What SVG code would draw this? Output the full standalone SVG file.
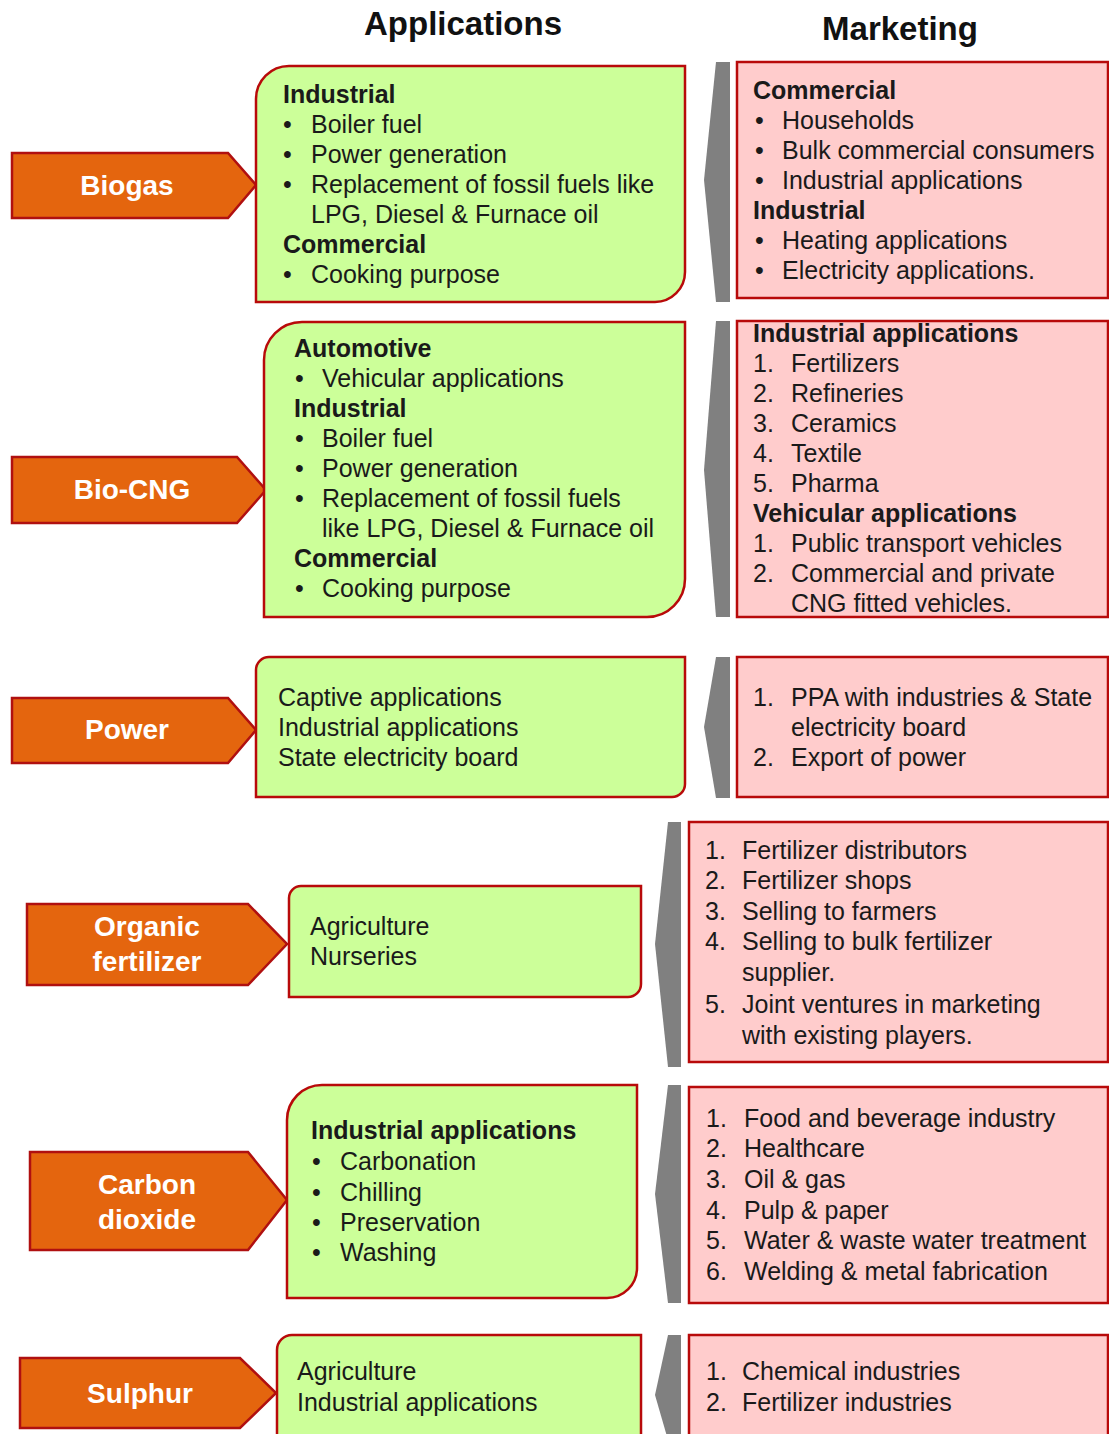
<svg xmlns="http://www.w3.org/2000/svg" width="1109" height="1434" viewBox="0 0 1109 1434">
<style>
.arrow{fill:#E4650E;stroke:#B01010;stroke-width:2.5}
.app{fill:#CCFF99;stroke:#B80A0A;stroke-width:2.5}
.mkt{fill:#FFCCCC;stroke:#B80A0A;stroke-width:2.5}
.sep{fill:#808080}
text{font-family:"Liberation Sans",Arial,sans-serif;fill:#1a1a1a}
.t{font-size:25px}
.b{font-size:25px;font-weight:bold}
.lbl{font-size:28px;font-weight:bold;fill:#ffffff;text-anchor:middle}
.hd{font-size:33px;font-weight:bold;fill:#111;text-anchor:middle}
</style>
<rect width="1109" height="1434" fill="#ffffff"/>
<g id="headings">
<text class="hd" x="463" y="35">Applications</text>
<text class="hd" x="900" y="40">Marketing</text>
</g>
<g id="connectors">
<polygon class="sep" points="716,62 730,62 730,302 716,302 704,180"/>
<polygon class="sep" points="716,321 730,321 730,617 716,617 704,470"/>
<polygon class="sep" points="716,657 730,657 730,798 716,798 704,727"/>
<polygon class="sep" points="668,822 681,822 681,1067 668,1067 655,944"/>
<polygon class="sep" points="668,1085 681,1085 681,1303 668,1303 655,1194"/>
<polygon class="sep" points="668,1335 681,1335 681,1440 668,1440 655,1395"/>
</g>
<g id="biogas">
<polygon class="arrow" points="12,153 228,153 256,185 228,218 12,218"/>
<text class="lbl" x="127" y="195">Biogas</text>
</g>
<g id="biogas-app">
<path class="app" d="M289,66 H685 V272 A30,30 0 0 1 655,302 H256 V99 A33,33 0 0 1 289,66 Z"/>
<text class="b" x="283" y="103">Industrial</text>
<text class="t" x="283" y="133">•</text><text class="t" x="311" y="133">Boiler fuel</text>
<text class="t" x="283" y="163">•</text><text class="t" x="311" y="163">Power generation</text>
<text class="t" x="283" y="193">•</text><text class="t" x="311" y="193">Replacement of fossil fuels like</text>
<text class="t" x="311" y="223">LPG, Diesel &amp; Furnace oil</text>
<text class="b" x="283" y="253">Commercial</text>
<text class="t" x="283" y="283">•</text><text class="t" x="311" y="283">Cooking purpose</text>
</g>
<g id="biogas-mkt">
<rect class="mkt" x="737" y="62" width="371" height="236"/>
<text class="b" x="753" y="99">Commercial</text>
<text class="t" x="755" y="129">•</text><text class="t" x="782" y="129">Households</text>
<text class="t" x="755" y="159">•</text><text class="t" x="782" y="159">Bulk commercial consumers</text>
<text class="t" x="755" y="189">•</text><text class="t" x="782" y="189">Industrial applications</text>
<text class="b" x="753" y="219">Industrial</text>
<text class="t" x="755" y="249">•</text><text class="t" x="782" y="249">Heating applications</text>
<text class="t" x="755" y="279">•</text><text class="t" x="782" y="279">Electricity applications.</text>
</g>
<g id="biocng">
<polygon class="arrow" points="12,457 237,457 266,490 237,523 12,523"/>
<text class="lbl" x="132" y="499">Bio-CNG</text>
</g>
<g id="biocng-app">
<path class="app" d="M302,322 H685 V579 A38,38 0 0 1 647,617 H264 V360 A38,38 0 0 1 302,322 Z"/>
<text class="b" x="294" y="357">Automotive</text>
<text class="t" x="295" y="387">•</text><text class="t" x="322" y="387">Vehicular applications</text>
<text class="b" x="294" y="417">Industrial</text>
<text class="t" x="295" y="447">•</text><text class="t" x="322" y="447">Boiler fuel</text>
<text class="t" x="295" y="477">•</text><text class="t" x="322" y="477">Power generation</text>
<text class="t" x="295" y="507">•</text><text class="t" x="322" y="507">Replacement of fossil fuels</text>
<text class="t" x="322" y="537">like LPG, Diesel &amp; Furnace oil</text>
<text class="b" x="294" y="567">Commercial</text>
<text class="t" x="295" y="597">•</text><text class="t" x="322" y="597">Cooking purpose</text>
</g>
<g id="biocng-mkt">
<rect class="mkt" x="737" y="321" width="371" height="296"/>
<text class="b" x="753" y="342">Industrial applications</text>
<text class="t" x="753" y="372">1.</text><text class="t" x="791" y="372">Fertilizers</text>
<text class="t" x="753" y="402">2.</text><text class="t" x="791" y="402">Refineries</text>
<text class="t" x="753" y="432">3.</text><text class="t" x="791" y="432">Ceramics</text>
<text class="t" x="753" y="462">4.</text><text class="t" x="791" y="462">Textile</text>
<text class="t" x="753" y="492">5.</text><text class="t" x="791" y="492">Pharma</text>
<text class="b" x="753" y="522">Vehicular applications</text>
<text class="t" x="753" y="552">1.</text><text class="t" x="791" y="552">Public transport vehicles</text>
<text class="t" x="753" y="582">2.</text><text class="t" x="791" y="582">Commercial and private</text>
<text class="t" x="791" y="612">CNG fitted vehicles.</text>
</g>
<g id="power">
<polygon class="arrow" points="12,698 228,698 256,730 228,763 12,763"/>
<text class="lbl" x="127" y="739">Power</text>
</g>
<g id="power-app">
<path class="app" d="M269,657 H685 V784 A13,13 0 0 1 672,797 H256 V670 A13,13 0 0 1 269,657 Z"/>
<text class="t" x="278" y="706">Captive applications</text>
<text class="t" x="278" y="736">Industrial applications</text>
<text class="t" x="278" y="766">State electricity board</text>
</g>
<g id="power-mkt">
<rect class="mkt" x="737" y="657" width="371" height="140"/>
<text class="t" x="753" y="706">1.</text><text class="t" x="791" y="706">PPA with industries &amp; State</text>
<text class="t" x="791" y="736">electricity board</text>
<text class="t" x="753" y="766">2.</text><text class="t" x="791" y="766">Export of power</text>
</g>
<g id="organic-fertilizer">
<polygon class="arrow" points="27,904 248,904 287,944 248,985 27,985"/>
<text class="lbl" x="147" y="936">Organic</text>
<text class="lbl" x="147" y="971">fertilizer</text>
</g>
<g id="organic-fertilizer-app">
<path class="app" d="M301,886 H641 V984 A13,13 0 0 1 628,997 H289 V898 A12,12 0 0 1 301,886 Z"/>
<text class="t" x="310" y="935">Agriculture</text>
<text class="t" x="310" y="965">Nurseries</text>
</g>
<g id="organic-fertilizer-mkt">
<rect class="mkt" x="689" y="822" width="419" height="240"/>
<text class="t" x="705" y="859">1.</text><text class="t" x="742" y="859">Fertilizer distributors</text>
<text class="t" x="705" y="889">2.</text><text class="t" x="742" y="889">Fertilizer shops</text>
<text class="t" x="705" y="920">3.</text><text class="t" x="742" y="920">Selling to farmers</text>
<text class="t" x="705" y="950">4.</text><text class="t" x="742" y="950">Selling to bulk fertilizer</text>
<text class="t" x="742" y="981">supplier.</text>
<text class="t" x="705" y="1013">5.</text><text class="t" x="742" y="1013">Joint ventures in marketing</text>
<text class="t" x="742" y="1044">with existing players.</text>
</g>
<g id="carbon-dioxide">
<polygon class="arrow" points="30,1152 248,1152 287,1200 248,1250 30,1250"/>
<text class="lbl" x="147" y="1194">Carbon</text>
<text class="lbl" x="147" y="1229">dioxide</text>
</g>
<g id="carbon-dioxide-app">
<path class="app" d="M322,1085 H637 V1268 A30,30 0 0 1 607,1298 H287 V1120 A35,35 0 0 1 322,1085 Z"/>
<text class="b" x="311" y="1139">Industrial applications</text>
<text class="t" x="312" y="1170">•</text><text class="t" x="340" y="1170">Carbonation</text>
<text class="t" x="312" y="1201">•</text><text class="t" x="340" y="1201">Chilling</text>
<text class="t" x="312" y="1231">•</text><text class="t" x="340" y="1231">Preservation</text>
<text class="t" x="312" y="1261">•</text><text class="t" x="340" y="1261">Washing</text>
</g>
<g id="carbon-dioxide-mkt">
<rect class="mkt" x="689" y="1087" width="419" height="216"/>
<text class="t" x="706" y="1127">1.</text><text class="t" x="744" y="1127">Food and beverage industry</text>
<text class="t" x="706" y="1157">2.</text><text class="t" x="744" y="1157">Healthcare</text>
<text class="t" x="706" y="1188">3.</text><text class="t" x="744" y="1188">Oil &amp; gas</text>
<text class="t" x="706" y="1219">4.</text><text class="t" x="744" y="1219">Pulp &amp; paper</text>
<text class="t" x="706" y="1249">5.</text><text class="t" x="744" y="1249">Water &amp; waste water treatment</text>
<text class="t" x="706" y="1280">6.</text><text class="t" x="744" y="1280">Welding &amp; metal fabrication</text>
</g>
<g id="sulphur">
<polygon class="arrow" points="20,1358 240,1358 276,1393 240,1428 20,1428"/>
<text class="lbl" x="140" y="1403">Sulphur</text>
</g>
<g id="sulphur-app">
<path class="app" d="M292,1335 H641 V1450 H277 V1350 A15,15 0 0 1 292,1335 Z"/>
<text class="t" x="297" y="1380">Agriculture</text>
<text class="t" x="297" y="1411">Industrial applications</text>
</g>
<g id="sulphur-mkt">
<rect class="mkt" x="689" y="1335" width="419" height="120"/>
<text class="t" x="706" y="1380">1.</text><text class="t" x="742" y="1380">Chemical industries</text>
<text class="t" x="706" y="1411">2.</text><text class="t" x="742" y="1411">Fertilizer industries</text>
</g>
</svg>
